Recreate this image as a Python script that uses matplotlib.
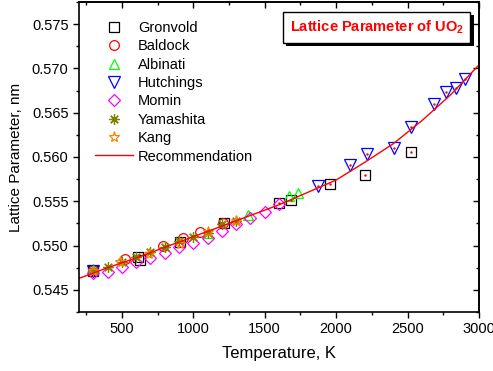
import matplotlib
matplotlib.use("Agg")
import matplotlib.pyplot as plt
from matplotlib.ticker import MultipleLocator, FormatStrFormatter
import matplotlib.patheffects as pe

plt.rcParams['font.family'] = ['Liberation Sans', 'DejaVu Sans']
plt.rcParams['mathtext.fontset'] = 'custom'
plt.rcParams['mathtext.rm'] = 'Liberation Sans'
plt.rcParams['mathtext.bf'] = 'Liberation Sans:bold'

# ---- data ----
gron_T = [300, 610, 625, 907, 1215, 1600, 1685, 1960, 2200, 2525]
gron_a = [0.5471, 0.5487, 0.5484, 0.5504, 0.5525, 0.5548, 0.5551, 0.5569, 0.5580, 0.5606]

bald_T = [300, 520, 790, 930, 1050, 1210]
bald_a = [0.5472, 0.5485, 0.5499, 0.5509, 0.5515, 0.5526]

alb_T = [300, 1100, 1380, 1670, 1735]
alb_a = [0.5474, 0.5514, 0.5535, 0.5556, 0.5559]

hut_T = [300, 1875, 2100, 2215, 2405, 2525, 2685, 2770, 2840, 2905]
hut_a = [0.5471, 0.5567, 0.5591, 0.5603, 0.5610, 0.5634, 0.5660, 0.5673, 0.5678, 0.5688]

mom_T = [300, 400, 500, 600, 700, 800, 900, 1000, 1100, 1200, 1300, 1400, 1500, 1600]
mom_a = [0.5469, 0.5470, 0.5476, 0.5481, 0.5486, 0.5492, 0.5498, 0.5503, 0.5509,
         0.5516, 0.5524, 0.5531, 0.5538, 0.5547]

yam_T = [300, 400, 500, 600, 700, 800, 900, 1000, 1100, 1200, 1300]
yam_a = [0.5471, 0.5476, 0.5482, 0.5487, 0.5493, 0.5498, 0.5505, 0.5510, 0.5514, 0.5524, 0.5528]

kang_T = [300, 484, 690, 905, 1100, 1300]
kang_a = [0.5471, 0.5481, 0.5491, 0.5502, 0.5515, 0.5528]

rec_T = [200, 400, 600, 800, 1000, 1200, 1400, 1600, 1800, 2000, 2200, 2400, 2600, 2800, 3000]
rec_a = [0.5463, 0.5475, 0.5486, 0.5498, 0.5510, 0.5522, 0.5534, 0.5546, 0.5560,
         0.5574, 0.5594, 0.5615, 0.5641, 0.5670, 0.5704]

title_text = r"Lattice Parameter of UO$_\mathbf{2}$"

# ---- figure ----
fig = plt.figure(figsize=(4.93, 3.71), dpi=100)
ax = fig.add_axes([79/493, 1 - 312/371, 400/493, 310/371])

ms = 6.5
mew = 0.9
ax.plot(gron_T, gron_a, ls='none', marker='s', ms=ms, mfc='none', mec='black', mew=mew, label='Gronvold')
ax.plot(bald_T, bald_a, ls='none', marker='o', ms=ms + 0.5, mfc='none', mec='red', mew=mew, label='Baldock')
ax.plot(alb_T, alb_a, ls='none', marker='^', ms=ms + 1, mfc='none', mec='#00FF00', mew=mew, label='Albinati')
ax.plot(hut_T, hut_a, ls='none', marker='v', ms=ms + 1.5, mfc='none', mec='blue', mew=mew, label='Hutchings')
ax.plot(mom_T, mom_a, ls='none', marker='D', ms=ms - 0.5, mfc='none', mec='magenta', mew=mew, label='Momin')
ax.plot(yam_T, yam_a, ls='none', marker=(8, 2, 0), ms=ms + 1, mfc='none', mec='#808000', mew=mew, label='Yamashita')
ax.plot(kang_T, kang_a, ls='none', marker='*', ms=ms + 1.5, mfc='none', mec='#FF8000', mew=mew, label='Kang')
ax.plot(rec_T, rec_a, color='red', lw=1.0, label='Recommendation')
# small red centre dots as in the original
ax.plot(gron_T[5:], gron_a[5:], ls='none', marker='.', ms=1.5, color='red')
ax.plot(hut_T[1:], hut_a[1:], ls='none', marker='.', ms=1.5, color='red')

ax.set_xlim(200, 3000)
ax.set_ylim(0.5425, 0.5775)
ax.xaxis.set_major_locator(MultipleLocator(500))
ax.xaxis.set_minor_locator(MultipleLocator(250))
ax.yaxis.set_major_locator(MultipleLocator(0.005))
ax.yaxis.set_minor_locator(MultipleLocator(0.0025))
ax.yaxis.set_major_formatter(FormatStrFormatter('%.3f'))

ax.tick_params(which='major', direction='out', length=4.5, width=1.0, labelsize=10.5, pad=3)
ax.tick_params(which='minor', direction='out', length=2.5, width=1.0)
for s in ax.spines.values():
    s.set_linewidth(1.2)

# top / right inward ticks
sx = ax.secondary_xaxis('top')
sx.xaxis.set_major_locator(MultipleLocator(500))
sx.xaxis.set_minor_locator(MultipleLocator(250))
sx.tick_params(which='major', direction='in', length=4.5, width=1.0, labeltop=False)
sx.tick_params(which='minor', direction='in', length=2.5, width=1.0)
sx.spines['top'].set_linewidth(1.2)
sy = ax.secondary_yaxis('right')
sy.yaxis.set_major_locator(MultipleLocator(0.005))
sy.yaxis.set_minor_locator(MultipleLocator(0.0025))
sy.tick_params(which='major', direction='in', length=4.5, width=1.0, labelright=False)
sy.tick_params(which='minor', direction='in', length=2.5, width=1.0)
sy.spines['right'].set_linewidth(1.2)

ax.set_xlabel('Temperature, K', fontsize=12, labelpad=7)
ax.set_ylabel('Lattice Parameter, nm', fontsize=11, labelpad=6)

leg = ax.legend(loc='upper left', bbox_to_anchor=(0.04, 0.939), frameon=False,
                fontsize=10.5, handlelength=2.6, handletextpad=0.35, labelspacing=0.3,
                borderpad=0, borderaxespad=0)

t = ax.text(0.744, 0.918, title_text, transform=ax.transAxes, ha='center', va='center',
            fontsize=10.5, fontweight='bold', color='red',
            bbox=dict(boxstyle='square,pad=0.45', fc='white', ec='black', lw=1.0))
t.get_bbox_patch().set_path_effects([
    pe.SimplePatchShadow(offset=(2.5, -2.5), shadow_rgbFace='black', alpha=1.0),
    pe.Normal()])

fig.savefig('out.png', dpi=100)
